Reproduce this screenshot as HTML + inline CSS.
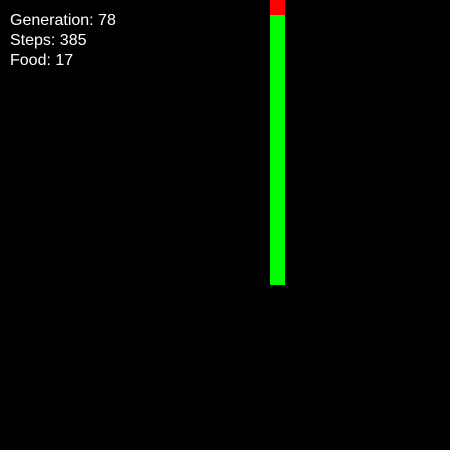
<!DOCTYPE html>
<html><head><style>
html,body{margin:0;padding:0;background:#000;}
#game{position:relative;width:450px;height:450px;background:#000;overflow:hidden;font-family:"Liberation Sans",sans-serif;color:#fff;font-size:16px;}
.t{position:absolute;left:10px;line-height:20px;white-space:nowrap;}
.seg{position:absolute;width:15px;height:15px;}
</style></head><body>
<div id="game">
<div class="t" style="top:11px">Generation: 78</div>
<div class="t" style="top:31px">Steps: 385</div>
<div class="t" style="top:51px">Food: 17</div>
<div class="seg" style="left:270px;top:0;background:#ff0000"></div>
<div class="seg" style="left:270px;top:15px;height:270px;background:#00ff00"></div>
</div>
</body></html>
